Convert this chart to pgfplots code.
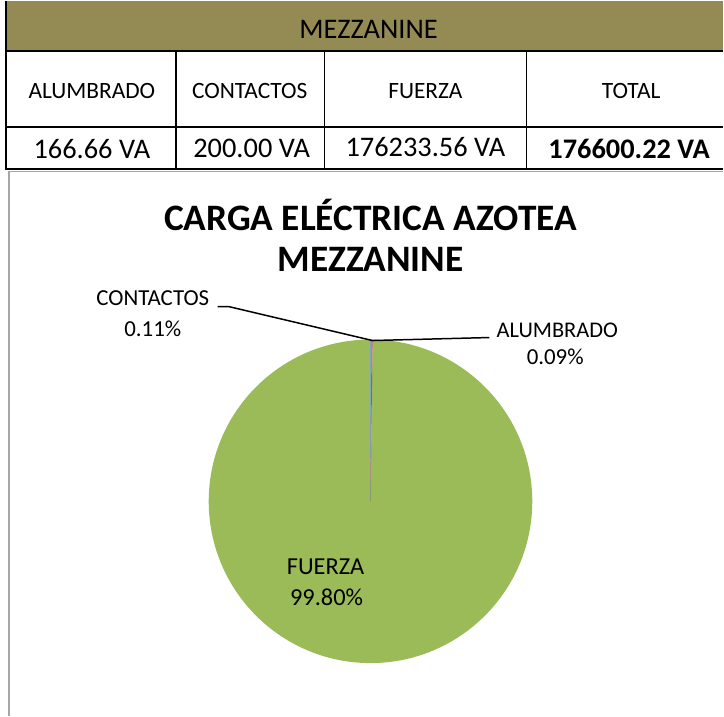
\documentclass[border=0pt]{standalone}
\usepackage{pgfplots}
\usepackage{pgfplotstable}
\pgfplotsset{compat=1.18}
\usepackage{fontspec}
\setmainfont{Carlito}
\definecolor{olivehdr}{HTML}{948A54}
\definecolor{pieblue}{HTML}{4F81BD}
\definecolor{piered}{HTML}{C0504D}
\definecolor{piegreen}{HTML}{9BBB59}
\definecolor{bordergray}{HTML}{A6A6A6}

\pgfplotstableread{
label value
ALUMBRADO 166.66
CONTACTOS 200.00
FUERZA 176233.56
}\piedata

\pgfplotstablegetelem{0}{value}\of\piedata \edef\vA{\pgfplotsretval}
\pgfplotstablegetelem{1}{value}\of\piedata \edef\vB{\pgfplotsretval}
\pgfplotstablegetelem{2}{value}\of\piedata \edef\vC{\pgfplotsretval}
\edef\vT{\fpeval{\vA+\vB+\vC}}
\edef\sA{90}
\edef\eA{\fpeval{90-360*\vA/\vT}}
\edef\eB{\fpeval{\eA-360*\vB/\vT}}
\edef\eC{\fpeval{\eB-360*\vC/\vT}}

\begin{document}
\begin{tikzpicture}
\begin{axis}[
  scale only axis, width=724bp, height=716bp,
  xmin=0, xmax=724, ymin=0, ymax=716, y dir=reverse,
  hide axis, clip=false,
]
% bounding box
\path (axis cs:0,0) rectangle (axis cs:724,716);
% table header band
\fill[olivehdr] (axis cs:6,0) rectangle (axis cs:724,50);
\node[font=\fontsize{28.5}{32}\selectfont] at (axis cs:369,28) {MEZZANINE};
% table lines
\draw[line width=2bp] (axis cs:6,0) -- (axis cs:6,169);
\draw[line width=1.2bp] (axis cs:6,50) -- (axis cs:724,50);
\draw[line width=2bp] (axis cs:6,126) -- (axis cs:724,126);
\draw[line width=1.5bp] (axis cs:6,168) -- (axis cs:724,168);
\foreach \xx in {176,325,527} {
  \edef\tmp{\noexpand\draw[line width=1.5bp] (axis cs:\xx,50) -- (axis cs:\xx,168);}\tmp
}
% chart border
\draw[bordergray, line width=1.5bp] (axis cs:9,170) -- (axis cs:9,716);
\draw[bordergray, line width=1bp] (axis cs:9,170.5) -- (axis cs:724,170.5);
% header texts
\node[font=\fontsize{23.5}{27}\selectfont] at (axis cs:92,90) {ALUMBRADO};
\node[font=\fontsize{23.5}{27}\selectfont] at (axis cs:250,90) {CONTACTOS};
\node[font=\fontsize{23.5}{27}\selectfont] at (axis cs:426,90) {FUERZA};
\node[font=\fontsize{23.5}{27}\selectfont] at (axis cs:632,90) {TOTAL};
\node[font=\fontsize{28.5}{32}\selectfont] at (axis cs:92,148) {166.66 VA};
\node[font=\fontsize{28.5}{32}\selectfont] at (axis cs:252,148) {200.00 VA};
\node[font=\fontsize{28.5}{32}\selectfont] at (axis cs:426,146) {176233.56 VA};
\node[font=\fontsize{28.5}{32}\selectfont\bfseries] at (axis cs:630,148) {176600.22 VA};
% title
\node[font=\fontsize{37.5}{42}\selectfont\bfseries] at (axis cs:371,214) {CARGA ELÉCTRICA AZOTEA};
\node[font=\fontsize{37.5}{42}\selectfont\bfseries] at (axis cs:371,259) {MEZZANINE};
% pie slices from data
\fill[piegreen] (axis cs:371,501) -- ++(\eB:162bp) arc[start angle=\eB, end angle=\eC, radius=162bp] -- cycle;
\fill[pieblue] (axis cs:371,501) -- ++(\sA:162bp) arc[start angle=\sA, end angle=\eA, radius=162bp] -- cycle;
\fill[piered] (axis cs:371,501) -- ++(\eA:162bp) arc[start angle=\eA, end angle=\eB, radius=162bp] -- cycle;
% leader lines
\draw[line width=1.5bp] (axis cs:218,306) -- (axis cs:229,306) -- (axis cs:373,340) -- (axis cs:490,337);
% pie labels
\node[font=\fontsize{23}{27}\selectfont] at (axis cs:153,298) {CONTACTOS};
\node[font=\fontsize{23}{27}\selectfont] at (axis cs:153,328) {0.11\%};
\node[font=\fontsize{22.5}{27}\selectfont] at (axis cs:558,330) {ALUMBRADO};
\node[font=\fontsize{23}{27}\selectfont] at (axis cs:556,356) {0.09\%};
\node[font=\fontsize{24.5}{28}\selectfont] at (axis cs:326,567) {FUERZA};
\node[font=\fontsize{24.5}{28}\selectfont] at (axis cs:327,597) {99.80\%};
\end{axis}
\end{tikzpicture}
\end{document}
